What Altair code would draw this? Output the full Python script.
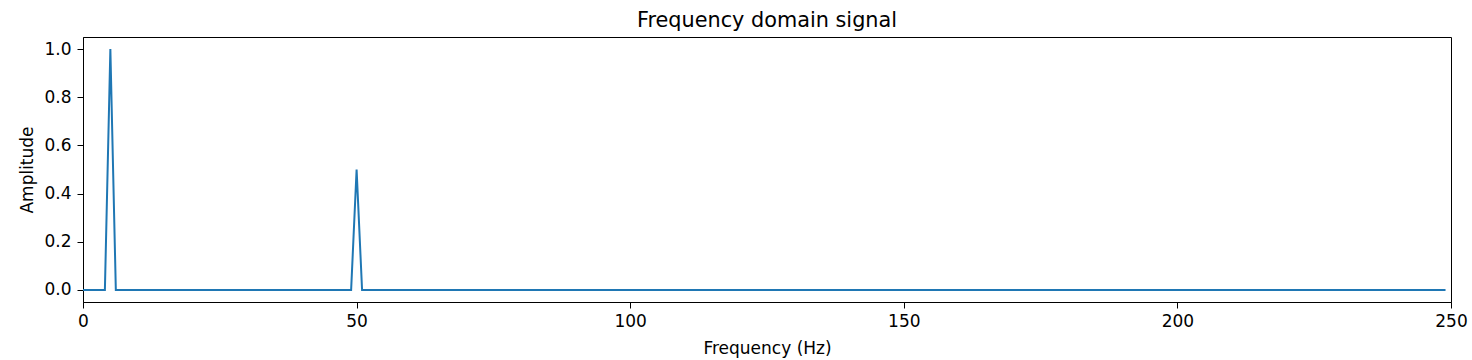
import altair as alt
import pandas as pd

# Breakpoints of the spectrum (1 Hz bins, zero everywhere except the two peaks)
freq = [0, 1, 2, 3, 4, 5, 6, 7, 48, 49, 50, 51, 52, 249]
amp = [0, 0, 0, 0, 0, 1.0, 0, 0, 0, 0, 0.5, 0, 0, 0]

x_ticks = [0, 50, 100, 150, 200, 250]
y_ticks = [0.0, 0.2, 0.4, 0.6, 0.8, 1.0]

df = pd.DataFrame({"freq": freq, "amp": amp})

FONT = "DejaVu Sans"

chart = (
    alt.Chart(df)
    .mark_line(color="#1f77b4", strokeWidth=2)
    .encode(
        x=alt.X(
            "freq:Q",
            title="Frequency (Hz)",
            scale=alt.Scale(domain=[0, 250], nice=False, zero=False),
            axis=alt.Axis(values=x_ticks, format="d", grid=False, tickSize=6,
                          labelPadding=5, titlePadding=11, labelFlush=False),
        ),
        y=alt.Y(
            "amp:Q",
            title="Amplitude",
            scale=alt.Scale(domain=[-0.05, 1.05], nice=False, zero=False),
            axis=alt.Axis(values=y_ticks, format=".1f", grid=False, tickSize=6,
                          labelPadding=6, titlePadding=7),
        ),
    )
    .properties(
        width=1368,
        height=265,
        title=alt.TitleParams("Frequency domain signal", fontSize=20.8, font=FONT,
                              fontWeight="normal", offset=5, color="black"),
        autosize=alt.AutoSizeParams(type="none"),
        padding={"left": 83, "top": 37, "right": 21, "bottom": 58},
        background="white",
    )
    .configure_view(stroke="black", strokeWidth=1)
    .configure_axis(
        domainColor="black",
        tickColor="black",
        labelColor="black",
        titleColor="black",
        labelFont=FONT,
        titleFont=FONT,
        labelFontSize=17,
        titleFontSize=17,
        titleFontWeight="normal",
        domainWidth=1,
        tickWidth=1,
    )
)

chart.save("out.html", embed_options={"renderer": "svg", "actions": False})
